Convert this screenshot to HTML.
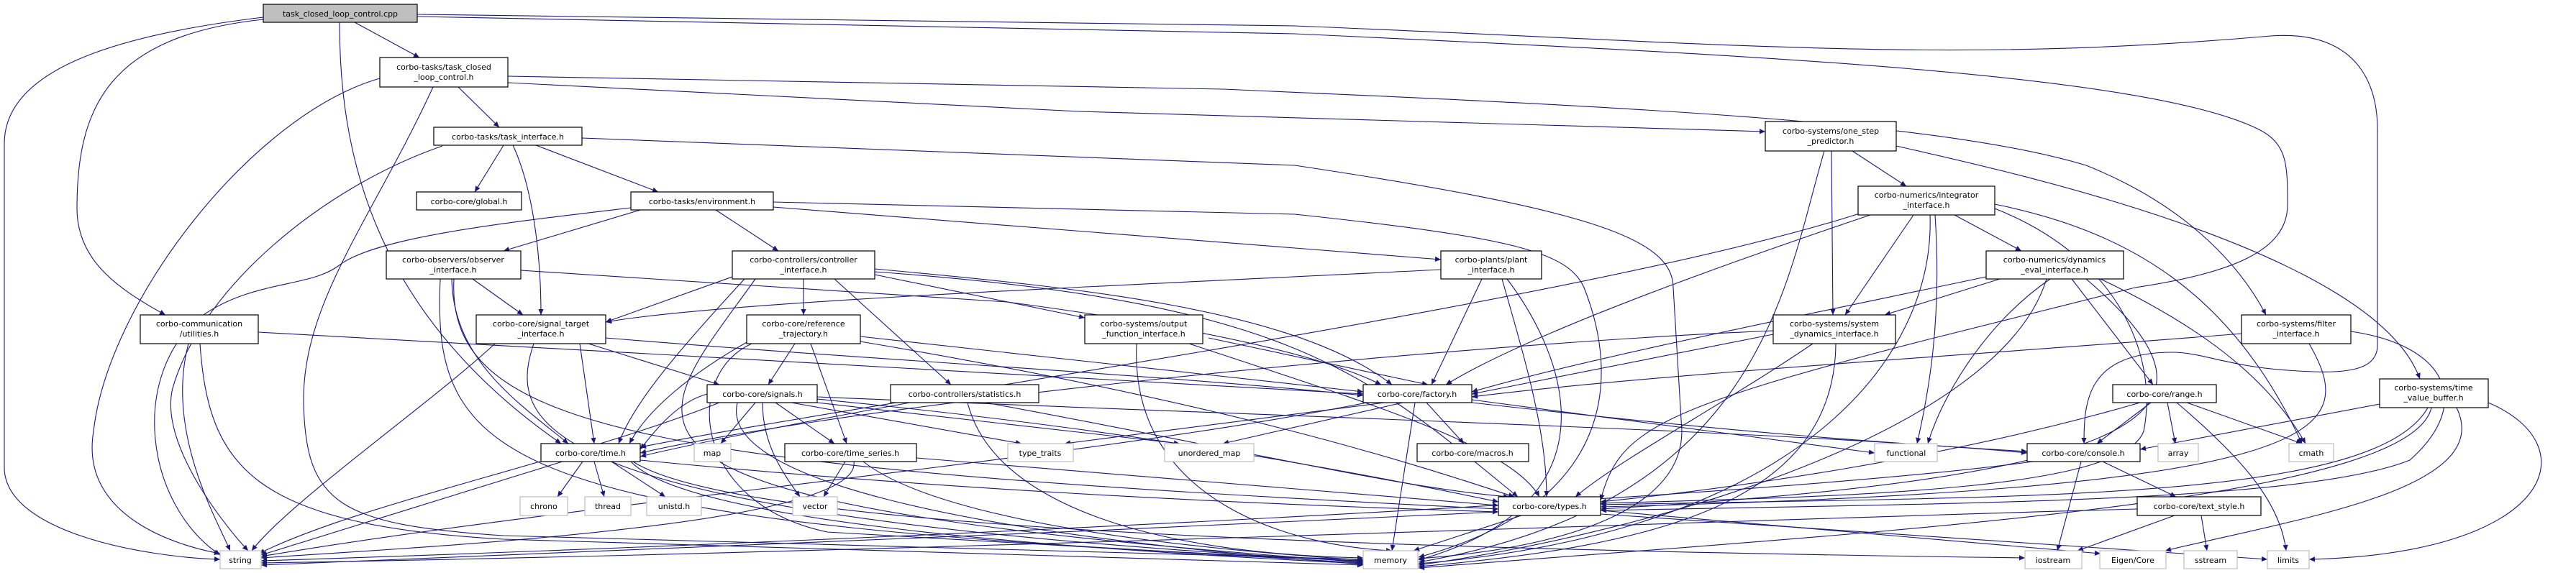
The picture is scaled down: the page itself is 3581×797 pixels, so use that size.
<!DOCTYPE html>
<html><head><meta charset="utf-8"><style>
html,body{margin:0;padding:0;background:#fff;}
svg{display:block;}
text{font-family:"DejaVu Sans","Liberation Sans",sans-serif;font-size:11px;fill:#000;text-anchor:middle;}
.e{fill:none;stroke:#191970;stroke-width:1.1;marker-end:url(#a);}
.n{fill:#fff;stroke:#000;stroke-width:1.2;}
.s{fill:#fff;stroke:#bfbfbf;stroke-width:1.2;}
</style></head><body>
<svg width="3581" height="797" viewBox="0 0 3581 797" xmlns="http://www.w3.org/2000/svg">
<defs><marker id="a" viewBox="0 0 10 10" refX="10" refY="5" markerUnits="userSpaceOnUse" markerWidth="10" markerHeight="8" orient="auto"><path d="M0,0.5 L10,5 L0,9.5z" fill="#191970"/></marker></defs>
<g>
<!-- root -->
<path class="e" d="M493,31 L583,80"/>
<path class="e" d="M366,24 C150,50 6,100 6,200 L6,650 C6,740 200,775 306,778"/>
<path class="e" d="M366,27 C150,50 107,150 107,290 C107,360 160,400 230,438"/>
<path class="e" d="M472,31 C472,200 510,430 780,617"/>
<path class="e" d="M580,20 L1800,36 C2400,60 2700,90 3157,50 C3300,40 3305,150 3305,180 L3305,480 C3305,520 3250,520 3180,515 C3100,510 3060,490 3020,490 C2900,490 2897,560 2897,617"/>
<path class="e" d="M580,23 L1800,47 C2400,75 2980,100 3140,180 C3180,200 3180,230 3180,285 C3180,350 3100,380 2968,400 L2681,472 C2300,570 2250,600 2225,696"/>
<!-- tclc -->
<path class="e" d="M637,121 L694,177"/>
<path class="e" d="M528,109 C350,160 150,420 130,600 C110,720 250,760 306,770"/>
<path class="e" d="M602,121 C520,300 420,420 422,560 C425,700 470,730 700,745 L1895,778"/>
<path class="e" d="M706,115 L1500,155 L2454,183"/>
<path class="e" d="M706,106 L1700,124 C2300,150 2700,170 2900,230 C3050,290 3120,380 3150,438"/>
<!-- ti -->
<path class="e" d="M700,202 L660,267"/>
<path class="e" d="M745,202 L915,267"/>
<path class="e" d="M713,202 C740,260 752,350 752,438"/>
<path class="e" d="M615,203 C450,260 280,400 240,540 C220,620 320,740 345,766"/>
<path class="e" d="M809,192 L1800,230 C2200,290 2326,330 2326,400 L2338,600 C2338,700 2200,760 1972,777"/>
<!-- env -->
<path class="e" d="M890,292 L700,349"/>
<path class="e" d="M995,292 L1082,349"/>
<path class="e" d="M1075,288 L1800,345 L2003,361"/>
<path class="e" d="M1075,281 L1800,298 C2100,330 2180,350 2202,400 C2250,520 2250,700 1972,775"/>
<path class="e" d="M877,289 C700,310 520,330 470,370 C430,400 350,390 280,440 C180,520 200,700 306,772"/>
<!-- obs -->
<path class="e" d="M657,388 L727,438"/>
<path class="e" d="M628,388 C630,500 720,560 790,617"/>
<path class="e" d="M724,376 L1400,420 C1700,460 1850,500 1920,535"/>
<path class="e" d="M631,388 C620,600 900,650 2083,708"/>
<path class="e" d="M612,388 C600,650 700,730 1895,780"/>
<!-- ctrl -->
<path class="e" d="M1117,388 L1117,438"/>
<path class="e" d="M1160,388 L1322,535"/>
<path class="e" d="M1216,382 L1508,442"/>
<path class="e" d="M1018,385 L842,448"/>
<path class="e" d="M1035,388 C950,480 880,560 860,617"/>
<path class="e" d="M1216,374 C1500,400 1800,430 1935,535"/>
<path class="e" d="M1216,378 C1800,420 1900,520 2110,691"/>
<path class="e" d="M1050,388 C900,600 750,700 1895,782"/>
<!-- reftraj -->
<path class="e" d="M1105,478 L1068,535"/>
<path class="e" d="M1127,478 L1177,617"/>
<path class="e" d="M1196,468 L1895,545"/>
<path class="e" d="M1196,475 C1700,560 1950,640 2105,691"/>
<path class="e" d="M1045,478 C950,520 960,700 1150,740 L1895,783"/>
<path class="e" d="M1040,475 C960,520 900,570 875,617"/>
<!-- outfun -->
<path class="e" d="M1680,470 L1985,535"/>
<path class="e" d="M1653,478 C1900,560 2100,620 2140,691"/>
<path class="e" d="M1580,478 C1570,700 1800,760 1935,766"/>
<!-- signals -->
<path class="e" d="M1050,560 L1002,617"/>
<path class="e" d="M1078,560 L1160,617"/>
<path class="e" d="M1060,560 C1060,620 1090,660 1112,691"/>
<path class="e" d="M1100,560 L1420,617"/>
<path class="e" d="M1136,560 L1640,617"/>
<path class="e" d="M983,548 C940,560 910,600 890,625"/>
<path class="e" d="M1000,560 C800,640 500,700 360,770"/>
<path class="e" d="M1136,555 C1600,600 1900,660 2083,698"/>
<path class="e" d="M1025,560 C1000,660 1300,740 1895,785"/>
<path class="e" d="M1136,552 C1800,580 2500,600 2818,630"/>
<!-- stats -->
<path class="e" d="M1345,560 C1380,700 1600,770 1895,776"/>
<path class="e" d="M1370,560 C1700,620 1950,680 2098,691"/>
<path class="e" d="M1265,560 C1100,590 950,620 890,635"/>
<!-- ts -->
<path class="e" d="M1175,642 L1145,691"/>
<path class="e" d="M1187,642 C1200,730 600,760 363,776"/>
<path class="e" d="M1274,637 L2083,703"/>
<path class="e" d="M1200,642 C1300,720 1600,760 1895,779"/>
<!-- time -->
<path class="e" d="M810,642 L775,691"/>
<path class="e" d="M826,642 L840,691"/>
<path class="e" d="M850,642 L925,691"/>
<path class="e" d="M782,642 L363,772"/>
<path class="e" d="M890,640 C1300,680 1700,700 2083,712"/>
<path class="e" d="M877,642 C950,720 1400,760 1895,784"/>
<path class="e" d="M880,642 C1000,720 1600,760 2815,776"/>
<!-- sti -->
<path class="e" d="M818,478 L1000,535"/>
<path class="e" d="M806,478 L826,617"/>
<path class="e" d="M688,478 C600,560 400,700 350,766"/>
<path class="e" d="M742,478 C700,600 760,720 1895,781"/>
<path class="e" d="M842,470 C1200,500 1600,520 1895,550"/>
<!-- util -->
<path class="e" d="M359,462 L900,492 L1895,548"/>
<path class="e" d="M262,478 C230,600 300,720 320,766"/>
<path class="e" d="M278,478 C290,650 350,730 700,750 L1895,786"/>
<!-- plant -->
<path class="e" d="M2003,375 C1500,400 1000,420 842,448"/>
<path class="e" d="M2060,388 L1990,535"/>
<path class="e" d="M2088,388 C2120,500 2150,600 2150,691"/>
<path class="e" d="M2095,388 C2180,500 2250,700 1972,779"/>
<!-- osp -->
<path class="e" d="M2575,210 L2650,259"/>
<path class="e" d="M2546,210 L2548,438"/>
<path class="e" d="M2536,210 C2480,400 2450,700 1972,782"/>
<path class="e" d="M2636,203 C2800,240 3300,350 3364,527"/>
<!-- integ -->
<path class="e" d="M2717,299 L2810,349"/>
<path class="e" d="M2660,299 L2565,438"/>
<path class="e" d="M2600,299 C2300,400 2100,480 2010,535"/>
<path class="e" d="M2690,299 C2700,450 2680,550 2665,617"/>
<path class="e" d="M2683,299 C2690,500 2500,740 1972,784"/>
<path class="e" d="M2585,297 C2200,420 1200,560 890,622"/>
<path class="e" d="M2773,284 C2950,320 3100,400 3200,617"/>
<path class="e" d="M2773,290 C2950,360 3000,500 2980,600 C2950,680 2600,690 2225,700"/>
<!-- dyneval -->
<path class="e" d="M2780,388 L2620,438"/>
<path class="e" d="M2761,385 C2500,440 2200,500 2046,545"/>
<path class="e" d="M2880,388 L2993,535"/>
<path class="e" d="M2850,388 C2760,450 2700,550 2680,617"/>
<path class="e" d="M2845,388 C2780,600 2300,740 1972,786"/>
<path class="e" d="M2900,388 C3100,560 3050,660 2225,708"/>
<path class="e" d="M2920,388 C3050,450 3150,520 3205,617"/>
<!-- sysdyn -->
<path class="e" d="M2465,465 L2046,548"/>
<path class="e" d="M2520,478 C2400,560 2250,640 2190,691"/>
<path class="e" d="M2552,478 C2550,700 2300,760 1972,788"/>
<path class="e" d="M2465,460 C2000,480 1200,560 890,630"/>
<!-- filter -->
<path class="e" d="M3116,464 C2800,490 2300,520 2046,552"/>
<path class="e" d="M3210,478 C3280,600 3250,680 2225,705"/>
<path class="e" d="M3268,461 C3400,480 3440,560 3350,640 C3200,700 2700,700 2225,710"/>
<!-- factory -->
<path class="e" d="M1983,560 L2035,617"/>
<path class="e" d="M2046,556 L2606,630"/>
<path class="e" d="M1967,560 L1935,766"/>
<path class="e" d="M2046,560 C2400,600 2600,615 2818,628"/>
<path class="e" d="M1925,560 L1480,617"/>
<path class="e" d="M1950,560 L1700,617"/>
<path class="e" d="M1900,560 C1500,640 800,700 363,774"/>
<!-- range -->
<path class="e" d="M2990,560 L2915,617"/>
<path class="e" d="M3013,560 L3024,617"/>
<path class="e" d="M3040,560 L3200,617"/>
<path class="e" d="M3026,560 C3120,640 3170,700 3178,766"/>
<path class="e" d="M2975,560 C2700,640 2400,680 2225,698"/>
<!-- tvb -->
<path class="e" d="M3308,562 L2975,625"/>
<path class="e" d="M3375,567 C3300,700 2800,690 2225,702"/>
<path class="e" d="M3380,567 C3350,700 2600,740 1972,790"/>
<path class="e" d="M3459,560 C3600,620 3550,770 3210,778"/>
<path class="e" d="M3415,567 C3470,680 3200,720 3010,766"/>
<!-- console -->
<path class="e" d="M2893,642 L2860,766"/>
<path class="e" d="M2923,642 L3025,691"/>
<path class="e" d="M2826,642 C2400,700 1000,760 363,780"/>
<!-- text_style -->
<path class="e" d="M3023,717 L2888,766"/>
<path class="e" d="M3060,717 L3068,766"/>
<path class="e" d="M2971,708 C2500,720 1200,770 363,783"/>
<!-- types -->
<path class="e" d="M2115,717 L1965,766"/>
<path class="e" d="M2083,712 C1500,740 800,770 363,786"/>
<path class="e" d="M2225,710 L2920,770"/>
<path class="e" d="M2225,715 L3152,778"/>
</g>
<g>
<rect x="366" y="6" width="214" height="25" fill="#bfbfbf" stroke="#000" stroke-width="1.2"/><text x="473" y="23">task_closed_loop_control.cpp</text>
<rect class="n" x="528" y="80" width="178" height="41"/><text x="617" y="97">corbo-tasks/task_closed</text><text x="617" y="111">_loop_control.h</text>
<rect class="n" x="603" y="177" width="206" height="25"/><text x="706" y="194">corbo-tasks/task_interface.h</text>
<rect class="n" x="579" y="267" width="146" height="25"/><text x="652" y="284">corbo-core/global.h</text>
<rect class="n" x="877" y="267" width="198" height="25"/><text x="976" y="284">corbo-tasks/environment.h</text>
<rect class="n" x="537" y="349" width="187" height="39"/><text x="630" y="365">corbo-observers/observer</text><text x="630" y="379">_interface.h</text>
<rect class="n" x="1018" y="349" width="198" height="39"/><text x="1117" y="365">corbo-controllers/controller</text><text x="1117" y="379">_interface.h</text>
<rect class="n" x="2003" y="349" width="140" height="39"/><text x="2073" y="365">corbo-plants/plant</text><text x="2073" y="379">_interface.h</text>
<rect class="n" x="2454" y="169" width="182" height="41"/><text x="2545" y="186">corbo-systems/one_step</text><text x="2545" y="200">_predictor.h</text>
<rect class="n" x="2583" y="259" width="190" height="40"/><text x="2678" y="275">corbo-numerics/integrator</text><text x="2678" y="289">_interface.h</text>
<rect class="n" x="2761" y="349" width="191" height="39"/><text x="2856" y="365">corbo-numerics/dynamics</text><text x="2856" y="379">_eval_interface.h</text>
<rect class="n" x="195" y="438" width="164" height="40"/><text x="277" y="454">corbo-communication</text><text x="277" y="468">/utilities.h</text>
<rect class="n" x="662" y="438" width="180" height="40"/><text x="752" y="454">corbo-core/signal_target</text><text x="752" y="468">_interface.h</text>
<rect class="n" x="1038" y="438" width="158" height="40"/><text x="1117" y="454">corbo-core/reference</text><text x="1117" y="468">_trajectory.h</text>
<rect class="n" x="1508" y="438" width="164" height="40"/><text x="1590" y="454">corbo-systems/output</text><text x="1590" y="468">_function_interface.h</text>
<rect class="n" x="2465" y="438" width="170" height="40"/><text x="2550" y="454">corbo-systems/system</text><text x="2550" y="468">_dynamics_interface.h</text>
<rect class="n" x="3116" y="438" width="152" height="40"/><text x="3192" y="454">corbo-systems/filter</text><text x="3192" y="468">_interface.h</text>
<rect class="n" x="983" y="535" width="153" height="25"/><text x="1060" y="552">corbo-core/signals.h</text>
<rect class="n" x="1238" y="535" width="206" height="25"/><text x="1341" y="552">corbo-controllers/statistics.h</text>
<rect class="n" x="1895" y="535" width="151" height="25"/><text x="1970" y="552">corbo-core/factory.h</text>
<rect class="n" x="2937" y="535" width="144" height="25"/><text x="3009" y="552">corbo-core/range.h</text>
<rect class="n" x="3308" y="527" width="151" height="40"/><text x="3383" y="543">corbo-systems/time</text><text x="3383" y="557">_value_buffer.h</text>
<rect class="n" x="752" y="617" width="138" height="25"/><text x="821" y="634">corbo-core/time.h</text>
<rect class="s" x="965" y="617" width="51" height="25"/><text x="990" y="634">map</text>
<rect class="n" x="1091" y="617" width="183" height="25"/><text x="1182" y="634">corbo-core/time_series.h</text>
<rect class="s" x="1401" y="617" width="91" height="25"/><text x="1446" y="634">type_traits</text>
<rect class="s" x="1619" y="617" width="124" height="25"/><text x="1681" y="634">unordered_map</text>
<rect class="n" x="1970" y="617" width="155" height="25"/><text x="2047" y="634">corbo-core/macros.h</text>
<rect class="s" x="2606" y="617" width="87" height="25"/><text x="2650" y="634">functional</text>
<rect class="n" x="2818" y="617" width="157" height="25"/><text x="2896" y="634">corbo-core/console.h</text>
<rect class="s" x="3000" y="617" width="56" height="25"/><text x="3028" y="634">array</text>
<rect class="s" x="3182" y="617" width="62" height="25"/><text x="3213" y="634">cmath</text>
<rect class="s" x="723" y="691" width="66" height="26"/><text x="756" y="708">chrono</text>
<rect class="s" x="813" y="691" width="64" height="26"/><text x="845" y="708">thread</text>
<rect class="s" x="899" y="691" width="76" height="26"/><text x="937" y="708">unistd.h</text>
<rect class="s" x="1102" y="691" width="62" height="26"/><text x="1133" y="708">vector</text>
<rect class="n" x="2083" y="691" width="142" height="26"/><text x="2154" y="708">corbo-core/types.h</text>
<rect class="n" x="2971" y="691" width="172" height="26"/><text x="3057" y="708">corbo-core/text_style.h</text>
<rect class="s" x="306" y="766" width="57" height="25"/><text x="334" y="783">string</text>
<rect class="s" x="1895" y="766" width="76" height="25"/><text x="1933" y="783">memory</text>
<rect class="s" x="2815" y="766" width="79" height="25"/><text x="2854" y="783">iostream</text>
<rect class="s" x="2919" y="766" width="92" height="25"/><text x="2965" y="783">Eigen/Core</text>
<rect class="s" x="3036" y="766" width="74" height="25"/><text x="3073" y="783">sstream</text>
<rect class="s" x="3152" y="766" width="58" height="25"/><text x="3181" y="783">limits</text>
</g>
</svg>
</body></html>
